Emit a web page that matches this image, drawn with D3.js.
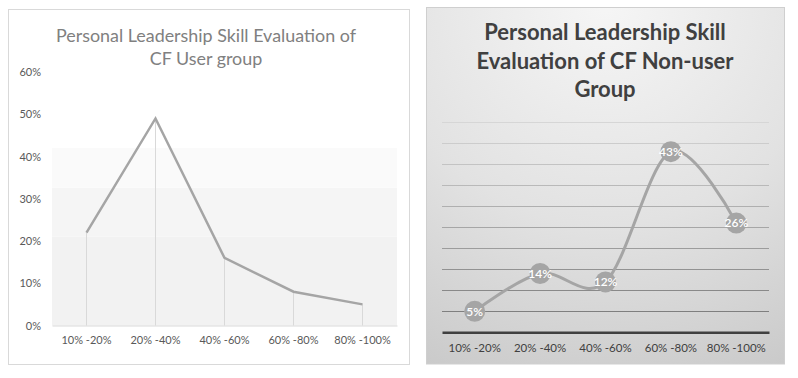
<!DOCTYPE html>
<html>
<head>
<meta charset="utf-8">
<script src="https://cdn.jsdelivr.net/npm/d3@7"></script>
<style>
  body { margin: 0; background: #ffffff; }
  svg { display: block; font-family: Lato, "Open Sans", sans-serif; }
</style>
</head>
<body>
<script>
// categories shared by both charts
var categories = ["10% -20%", "20% -40%", "40% -60%", "60% -80%", "80% -100%"];

// CF user group values (%)
var userValues = [22, 49, 16, 8, 5];
// CF non-user group values (%)
var nonUserValues = [5, 14, 12, 43, 26];

// left axis tick labels
var userTicks = [0, 10, 20, 30, 40, 50, 60];
// right chart gridline values
var nonUserGrid = [5, 10, 15, 20, 25, 30, 35, 40, 45, 50];

// shaded bands behind the left plot (value ranges)
var userBands = [[0, 21], [21, 32.6], [32.6, 42]];
var bandColors = ["#f2f2f2", "#f5f5f5", "#fafafa"];

var svg = d3.select("body").append("svg")
    .attr("width", 798)
    .attr("height", 378);

// ---------- left chart : CF User group ----------
var left = svg.append("g");

left.append("rect")
    .attr("x", 8.5).attr("y", 9.5)
    .attr("width", 401).attr("height", 355)
    .attr("fill", "#ffffff")
    .attr("stroke", "#d9d9d9");

var x1 = d3.scaleBand().domain(categories).range([52, 397]);
var y1 = d3.scaleLinear().domain([0, 60]).range([325.5, 72]);

//background bands
left.selectAll(".band")
    .data(userBands)
    .enter().append("rect")
    .attr("x", 52)
    .attr("width", 345)
    .attr("y", d => y1(d[1]))
    .attr("height", d => y1(d[0]) - y1(d[1]))
    .attr("fill", (d, i) => bandColors[i]);

left.append("text")
    .attr("text-anchor", "middle")
    .attr("fill", "#808080")
    .style("font-size", "17.9px")
    .selectAll("tspan")
    .data(["Personal Leadership Skill Evaluation of", "CF User group"])
    .enter().append("tspan")
    .attr("x", 206)
    .attr("y", (d, i) => 42 + i * 23)
    .text(d => d);

//y axis
var yAxis1 = left.append("g")
    .attr("transform", "translate(41,0)")
    .call(d3.axisLeft(y1).tickValues(userTicks).tickSize(0).tickFormat(d => d + "%"));
yAxis1.select(".domain").remove();
yAxis1.selectAll("text")
    .attr("fill", "#595959")
    .style("font-size", "11px")
    .style("font-family", "Lato, sans-serif")
    .attr("x", 0);

//drop lines
left.selectAll(".drop")
    .data(userValues)
    .enter().append("line")
    .attr("x1", (d, i) => x1(categories[i]) + x1.bandwidth() / 2)
    .attr("x2", (d, i) => x1(categories[i]) + x1.bandwidth() / 2)
    .attr("y1", d => y1(d))
    .attr("y2", y1(0))
    .attr("stroke", "#d9d9d9")
    .attr("stroke-width", 1);

//x axis
var xAxis1 = left.append("g")
    .attr("transform", "translate(0," + y1(0) + ")")
    .call(d3.axisBottom(x1).tickSize(0).tickPadding(11));
xAxis1.select(".domain").attr("stroke", "#d9d9d9");
xAxis1.selectAll("text")
    .attr("fill", "#595959")
    .style("font-size", "11px")
    .style("font-family", "Lato, sans-serif");

left.append("path")
    .datum(userValues)
    .attr("fill", "none")
    .attr("stroke", "#a5a5a5")
    .attr("stroke-width", 2.5)
    .attr("d", d3.line()
        .x((d, i) => x1(categories[i]) + x1.bandwidth() / 2)
        .y(d => y1(d)));

// ---------- right chart : CF Non-user group ----------
var right = svg.append("g");

var defs = svg.append("defs");
var grad = defs.append("radialGradient")
    .attr("id", "bg")
    .attr("gradientUnits", "userSpaceOnUse")
    .attr("cx", 605).attr("cy", 0).attr("r", 450);
grad.append("stop").attr("offset", "0%").attr("stop-color", "#f6f6f6");
grad.append("stop").attr("offset", "50%").attr("stop-color", "#e2e2e2");
grad.append("stop").attr("offset", "100%").attr("stop-color", "#c4c4c4");

right.append("rect")
    .attr("x", 426.5).attr("y", 7.5)
    .attr("width", 358).attr("height", 356.5)
    .attr("fill", "url(#bg)")
    .attr("stroke", "#cfcfcf");

var x2 = d3.scaleBand().domain(categories).range([442, 769]);
var y2 = d3.scaleLinear().domain([0, 50]).range([332.3, 122.3]);

right.append("text")
    .attr("text-anchor", "middle")
    .attr("fill", "#404040")
    .style("font-size", "22px")
    .style("font-weight", "bold")
    .selectAll("tspan")
    .data(["Personal Leadership Skill", "Evaluation of CF Non-user", "Group"])
    .enter().append("tspan")
    .attr("x", 605)
    .attr("y", (d, i) => 40 + i * 28.5)
    .text(d => d);

//gridlines, darker towards the bottom
var gridColor = d3.scaleLinear().domain([50, 5]).range(["#d6d6d6", "#7f7f7f"]);
right.selectAll(".grid")
    .data(nonUserGrid)
    .enter().append("line")
    .attr("x1", 442).attr("x2", 769)
    .attr("y1", d => Math.round(y2(d)) + 0.5)
    .attr("y2", d => Math.round(y2(d)) + 0.5)
    .attr("stroke", d => gridColor(d))
    .attr("stroke-width", 1);

//x axis
var xAxis2 = right.append("g")
    .attr("transform", "translate(0," + y2(0) + ")")
    .call(d3.axisBottom(x2).tickSize(0).tickPadding(12));
xAxis2.select(".domain").attr("stroke", "#404040").attr("stroke-width", 2.5);
xAxis2.selectAll("text")
    .attr("fill", "#404040")
    .style("font-size", "11.5px")
    .style("font-family", "Lato, sans-serif");

var cx2 = (d, i) => x2(categories[i]) + x2.bandwidth() / 2;

right.append("path")
    .datum(nonUserValues)
    .attr("fill", "none")
    .attr("stroke", "#a5a5a5")
    .attr("stroke-width", 3)
    .attr("d", d3.line()
        .x(cx2)
        .y(d => y2(d))
        .curve(d3.curveCardinal.tension(0)));

right.selectAll(".dot")
    .data(nonUserValues)
    .enter().append("circle")
    .attr("cx", cx2)
    .attr("cy", d => y2(d))
    .attr("r", 10.5)
    .attr("fill", "#a5a5a5");

right.selectAll(".lbl")
    .data(nonUserValues)
    .enter().append("text")
    .attr("x", cx2)
    .attr("y", d => y2(d))
    .attr("dy", "0.35em")
    .attr("text-anchor", "middle")
    .attr("fill", "#ffffff")
    .style("font-size", "12px")
    .style("font-weight", "600")
    .text(d => d + "%");
</script>
</body>
</html>
